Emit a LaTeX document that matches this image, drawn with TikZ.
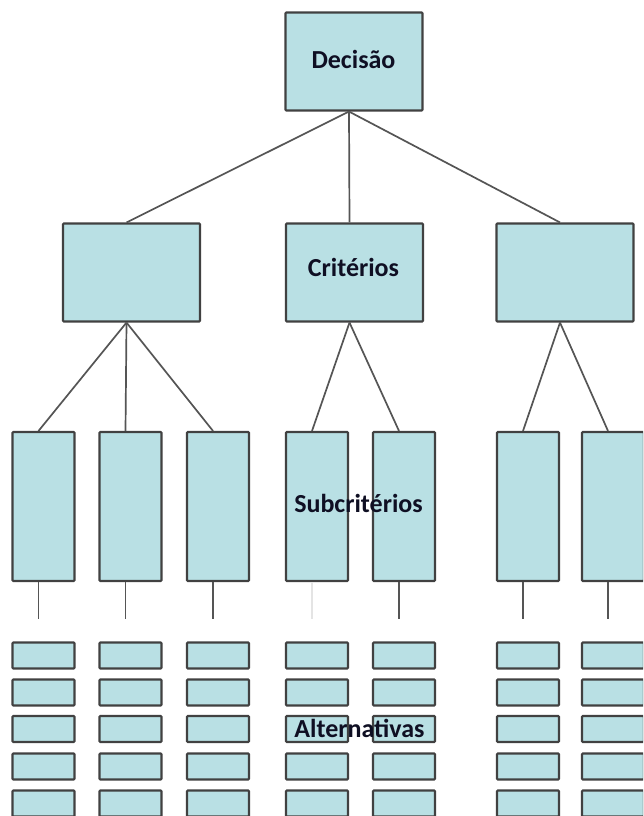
\documentclass[tikz,border=0pt]{standalone}
\usepackage{fontspec}
\setmainfont{Carlito}
\definecolor{boxfill}{RGB}{185,224,228}
\definecolor{boxline}{RGB}{65,65,65}
\definecolor{conn}{RGB}{85,85,85}
\definecolor{faint}{RGB}{228,228,228}
\definecolor{txt}{RGB}{15,15,35}
\begin{document}
\begin{tikzpicture}[x=1pt,y=-1pt,
  box/.style={draw=boxline, fill=boxfill, line width=2.1pt, inner sep=0pt, rounded corners=0.8pt},
  bigbox/.style={box, minimum width=137pt, minimum height=98pt},
  subbox/.style={box, minimum width=62pt, minimum height=149pt},
  altbox/.style={box, minimum width=62pt, minimum height=26pt},
  link/.style={draw=conn, line width=1.7pt},
  faintlink/.style={draw=faint, line width=1.7pt},
  lbl/.style={font=\fontsize{26}{30}\selectfont\bfseries, text=txt, anchor=base, inner sep=0pt}]
\useasboundingbox (0,0) rectangle (643,816);
\clip (0,0) rectangle (643,816);
\fill[white] (0,0) rectangle (643,816);
% decision
\node[bigbox] (dec) at (354,61.5) {};
% criteria
\node[bigbox] (c1) at (131.5,272.5) {};
\node[bigbox] (c2) at (354.5,272.5) {};
\node[bigbox] (c3) at (565,272.5) {};
% subcriteria and alternatives
\foreach \i/\x in {1/43.5,2/130.5,3/218,4/317,5/404,6/528,7/613}{
  \node[subbox] (s\i) at (\x,506.5) {};
  \coordinate (e\i) at (\x-5,619);
  \foreach \j/\y in {1/655.5,2/692.5,3/729,4/766.5,5/803.5}{
    \node[altbox] (a\i\j) at (\x,\y) {};
  }
}
% connectors
\foreach \c in {c1,c2,c3}{
  \draw[link] ([xshift=-5pt]dec.south) -- ([xshift=-5pt]\c.north);
}
\foreach \s in {s1,s2,s3}{
  \draw[link] ([xshift=-5pt]c1.south) -- ([xshift=-5pt]\s.north);
}
\foreach \s in {s4,s5}{
  \draw[link] ([xshift=-5pt]c2.south) -- ([xshift=-5pt]\s.north);
}
\foreach \s in {s6,s7}{
  \draw[link] ([xshift=-5pt]c3.south) -- ([xshift=-5pt]\s.north);
}
\foreach \i in {1,2,3,5,6,7}{
  \draw[link] ([xshift=-5pt]s\i.south) -- (e\i);
}
\draw[faintlink] ([xshift=-5pt]s4.south) -- (e4);
% labels
\node[lbl] (tdec) at (353.5,68.3) {Decisão};
\node[lbl] (tcrit) at (353.5,276) {Critérios};
\node[lbl] (tsub) at (358.5,512) {Subcritérios};
\node[lbl] (talt) at (359.5,737) {Alternativas};
\end{tikzpicture}
\end{document}
